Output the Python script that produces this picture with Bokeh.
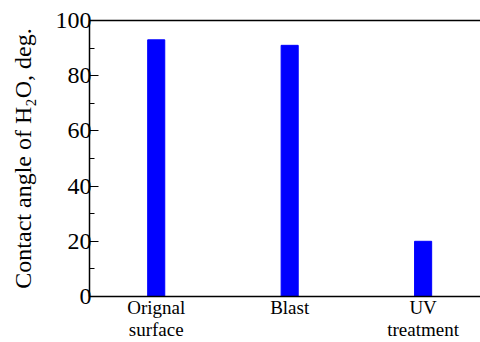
from bokeh.plotting import figure
from bokeh.models import Range1d, LinearAxis, SingleIntervalTicker, FixedTicker
from bokeh.embed import file_html
from bokeh.resources import INLINE

categories = ["Orignal\nsurface", "Blast", "UV\ntreatment"]
values = [93, 91, 20]

xs = list(range(1, len(categories) + 1))
FONT = "Liberation Serif"

p = figure(width=480, height=342, output_backend="svg", toolbar_location=None,
           x_range=Range1d(0.5, 3.43), y_range=Range1d(0, 100),
           min_border_left=89, min_border_right=0, min_border_top=20, min_border_bottom=0)
p.outline_line_color = None
p.grid.visible = False
p.background_fill_color = "white"
p.border_fill_color = "white"

p.vbar(x=xs, top=values, width=0.128, fill_color="#0000FF", line_color="#0000FF")

# y axis
ya = p.yaxis[0]
ya.ticker = SingleIntervalTicker(interval=20, num_minor_ticks=2)
ya.major_tick_in = 9
ya.major_tick_out = 0
ya.minor_tick_in = 5
ya.minor_tick_out = 0
ya.major_label_text_font = FONT
ya.major_label_text_font_size = "24px"
ya.major_label_text_color = "black"
ya.major_label_standoff = -2
ya.axis_label = "Contact angle of H\u2082O, deg."
ya.axis_label_text_font = FONT
ya.axis_label_text_font_size = "24px"
ya.axis_label_text_font_style = "normal"
ya.axis_label_text_color = "black"
ya.axis_label_standoff = 17
ya.axis_line_color = "black"
ya.axis_line_width = 1.5

# x axis
xa = p.xaxis[0]
xa.ticker = FixedTicker(ticks=xs)
xa.major_label_overrides = {x: c for x, c in zip(xs, categories)}
xa.major_tick_in = 0
xa.major_tick_out = 0
xa.minor_tick_in = 0
xa.minor_tick_out = 0
xa.major_tick_line_color = None
xa.minor_tick_line_color = None
xa.major_label_text_font = FONT
xa.major_label_text_font_size = "19px"
xa.major_label_text_line_height = 1.05
xa.major_label_text_color = "black"
xa.major_label_standoff = 0
xa.axis_line_color = "black"
xa.axis_line_width = 1.5

# top border
top = LinearAxis(ticker=FixedTicker(ticks=[]), major_label_text_font_size="0px",
                 major_tick_in=0, major_tick_out=0, minor_tick_in=0, minor_tick_out=0,
                 major_tick_line_color=None, minor_tick_line_color=None,
                 axis_line_color="black", axis_line_width=1.5)
p.add_layout(top, "above")

open("out.html", "w").write(file_html(p, INLINE))
